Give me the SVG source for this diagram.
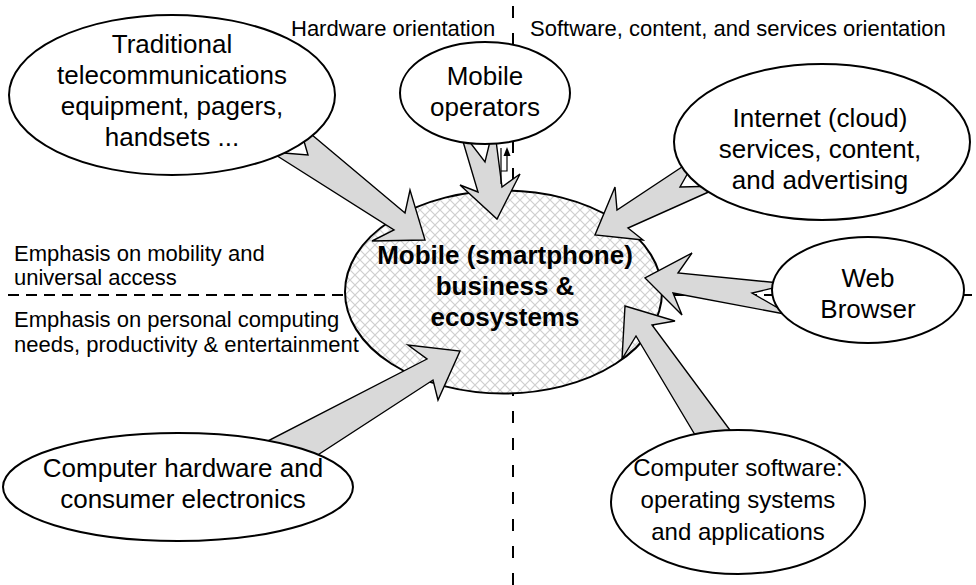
<svg xmlns="http://www.w3.org/2000/svg" width="976" height="585" viewBox="0 0 976 585">
  <defs>
    <pattern id="hatch" patternUnits="userSpaceOnUse" width="10" height="10">
      <rect width="10" height="10" fill="#ffffff"/>
      <path d="M0,0 L10,10 M10,0 L0,10" stroke="#cfcfcf" stroke-width="1.2"/>
    </pattern>
  </defs>
  <style>
    .node { fill: #ffffff; stroke: #000000; stroke-width: 2; }
    .hub { fill: url(#hatch); stroke: #000000; stroke-width: 2; }
    .arrow { fill: #d9d9d9; stroke: #000000; stroke-width: 1.4; stroke-linejoin: miter; }
    .divider { stroke: #000000; stroke-width: 2; fill: none; }
    .lbl { font-family: "Liberation Sans", Arial, sans-serif; font-size: 22px; fill: #000000; }
    .ntext { font-family: "Liberation Sans", Arial, sans-serif; font-size: 26px; fill: #000000; text-anchor: middle; }
    .stext { font-family: "Liberation Sans", Arial, sans-serif; font-size: 24px; fill: #000000; text-anchor: middle; }
    .htext { font-family: "Liberation Sans", Arial, sans-serif; font-size: 26px; font-weight: bold; fill: #000000; text-anchor: middle; }
  </style>

  <rect width="976" height="585" fill="#ffffff"/>

  <!-- quadrant dividers -->
  <g id="dividers">
    <line class="divider" x1="8" y1="295" x2="972" y2="295" stroke-dasharray="11 7"/>
    <line class="divider" x1="513" y1="6" x2="513" y2="585" stroke-dasharray="12 15"/>
  </g>

  <!-- central hub -->
  <g id="hub">
    <ellipse class="hub" cx="503.5" cy="292" rx="158.5" ry="101.5"/>
  </g>

  <!-- block arrows pointing into the hub -->
  <g id="connectors">
    <polygon class="arrow" points="299,124 405,213 410,190 425,240 372,241 394,230 271,152 308,155"/>
    <polygon class="arrow" points="459,128 478,192 460,185 497,219 520,174 502,187 494,125 485,162"/>
    <polygon class="arrow" points="697,157 617,210 615,187 595,235 643,240 628,228 722,186 680,187"/>
    <polygon class="arrow" points="790,284 678,273 692,253 645,278 682,315 673,293 790,315 752,293"/>
    <polygon class="arrow" points="229,461 427,359 408,345 460,351 438,400 433,380 290,473 265,464"/>
    <polygon class="arrow" points="707,455 636,336 622,359 625,306 675,321 652,325 744,449 727,448"/>
    <!-- small link marker between operators and hub -->
    <path d="M501,148 V184 M501,171 H507 V156" fill="none" stroke="#000000" stroke-width="1.2"/>
    <polygon points="507,147 503.5,156 510.5,156" fill="#000000"/>
  </g>

  <!-- surrounding nodes -->
  <g id="n-telecom">
    <ellipse class="node" cx="172" cy="95" rx="163" ry="80"/>
    <text class="ntext" x="172" y="53">Traditional</text>
    <text class="ntext" x="172" y="84">telecommunications</text>
    <text class="ntext" x="172" y="115">equipment, pagers,</text>
    <text class="ntext" x="172" y="146">handsets ...</text>
  </g>
  <g id="n-operators">
    <ellipse class="node" cx="485" cy="93" rx="85" ry="51"/>
    <text class="ntext" x="485" y="85">Mobile</text>
    <text class="ntext" x="485" y="116">operators</text>
  </g>
  <g id="n-internet">
    <ellipse class="node" cx="822" cy="142" rx="148" ry="78"/>
    <text class="ntext" x="820" y="127">Internet (cloud)</text>
    <text class="ntext" x="820" y="158">services, content,</text>
    <text class="ntext" x="820" y="189">and advertising</text>
  </g>
  <g id="n-browser">
    <ellipse class="node" cx="868" cy="290" rx="96" ry="53"/>
    <text class="ntext" x="868" y="287">Web</text>
    <text class="ntext" x="868" y="318">Browser</text>
  </g>
  <g id="n-hardware">
    <ellipse class="node" cx="178" cy="487" rx="175" ry="54"/>
    <text class="ntext" x="183" y="477">Computer hardware and</text>
    <text class="ntext" x="183" y="508">consumer electronics</text>
  </g>
  <g id="n-software">
    <ellipse class="node" cx="738" cy="502" rx="127" ry="72"/>
    <text class="stext" x="738" y="476">Computer software:</text>
    <text class="stext" x="738" y="508">operating systems</text>
    <text class="stext" x="738" y="540">and applications</text>
  </g>

  <g id="hub-label">
    <text class="htext" x="505" y="264">Mobile (smartphone)</text>
    <text class="htext" x="505" y="295">business &amp;</text>
    <text class="htext" x="505" y="326">ecosystems</text>
  </g>

  <!-- region labels -->
  <g id="labels">
    <text class="lbl" x="291" y="36">Hardware orientation</text>
    <text class="lbl" x="530" y="36">Software, content, and services orientation</text>
    <text class="lbl" x="14" y="261">Emphasis on mobility and</text>
    <text class="lbl" x="14" y="285">universal access</text>
    <text class="lbl" x="14" y="327">Emphasis on personal computing</text>
    <text class="lbl" x="14" y="352">needs, productivity &amp; entertainment</text>
  </g>
</svg>
